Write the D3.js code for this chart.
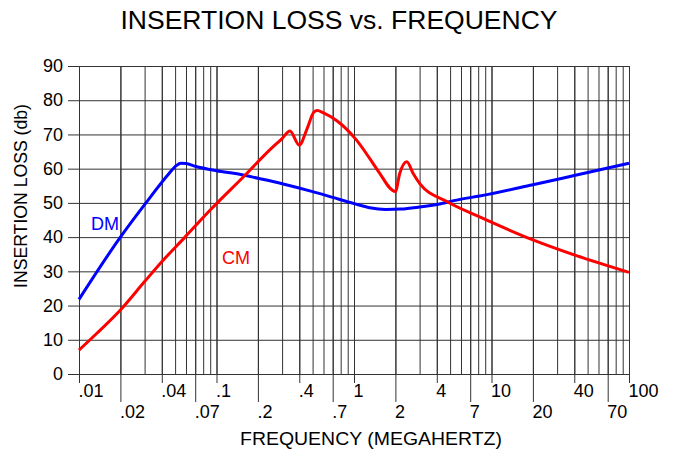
<!DOCTYPE html>
<html>
<head>
<meta charset="utf-8">
<script src="https://cdn.jsdelivr.net/npm/d3@7"></script>
<style>
  body { margin: 0; background: #fff; }
  svg { display: block; font-family: "Liberation Sans", Arial, sans-serif; }
  .grid line { stroke: #333; stroke-width: 1; }
  .grid path { display: none; }
</style>
</head>
<body>
<svg id="chart" width="678" height="459"></svg>
<script>
// frequency in MHz, insertion loss in dB
const dmFreq = [0.01, 0.02, 0.03, 0.045, 0.05, 0.055, 0.06, 0.07, 0.1, 0.15, 0.2, 0.3, 0.5, 0.7, 1.0, 1.3, 1.7, 2.2, 3.0, 4.2, 6.0, 8.2, 20, 40, 100];
const dmLoss = [21.8, 40.0, 49.5, 58.5, 60.6, 61.6, 61.5, 60.7, 59.4, 58.3, 57.2, 55.6, 53.3, 51.6, 49.8, 48.6, 48.1, 48.2, 48.8, 49.7, 51.1, 52.0, 55.3, 58.0, 61.6];

const cmFreq = [0.01, 0.0135, 0.02, 0.03, 0.04, 0.059, 0.09, 0.166, 0.244, 0.3, 0.342, 0.40, 0.457, 0.51, 0.54, 0.6, 0.75, 1.04, 1.3, 1.5, 2.0, 2.15, 2.42, 2.7, 3.0, 4.73, 8.2, 20, 40, 100];
const cmLoss = [7.0, 11.9, 18.7, 27.0, 32.8, 40.0, 47.9, 58.6, 65.5, 68.8, 71.0, 66.9, 71.8, 76.5, 77.0, 76.3, 74.0, 68.4, 63.0, 59.3, 53.3, 58.6, 62.0, 58.5, 55.7, 50.4, 45.9, 39.2, 34.8, 29.7];

const yTicks = [0, 10, 20, 30, 40, 50, 60, 70, 80, 90];
const topTicks = [0.01, 0.04, 0.1, 0.4, 1, 4, 10, 40, 100];
const topLabels = [".01", ".04", ".1", ".4", "1", "4", "10", "40", "100"];
const bottomTicks = [0.02, 0.07, 0.2, 0.7, 2, 7, 20, 70];
const bottomLabels = [".02", ".07", ".2", ".7", "2", "7", "20", "70"];

const svg = d3.select('#chart');
const plotL = 79, plotR = 629, plotT = 66, plotB = 374;

const x = d3.scaleLog().domain([0.01, 100]).range([plotL, plotR]);
const y = d3.scaleLinear().domain([0, 90]).range([plotB, plotT]);

// every 1..9 line per decade
const allTicks = [];
[0.01, 0.1, 1, 10].forEach(d => { for (let k = 1; k <= 9; k++) allTicks.push(+(d * k).toPrecision(3)); });
allTicks.push(100);

// vertical grid
svg.append('g').attr('class', 'grid')
  .attr('transform', `translate(0,${plotT})`)
  .call(d3.axisBottom(x).tickValues(allTicks).tickSize(plotB - plotT).tickFormat(''));

const topAxis = svg.append('g').attr('class', 'grid')
  .attr('transform', `translate(0,${plotT})`)
  .call(d3.axisBottom(x).tickValues(topTicks).tickSize(plotB - plotT + 9)
    .tickFormat((d, i) => topLabels[i]));
topAxis.selectAll('text')
  .attr('text-anchor', 'start').attr('dx', -1).attr('y', plotB - plotT + 23).attr('dy', 0)
  .attr('font-size', 18).attr('fill', '#000');

const botAxis = svg.append('g').attr('class', 'grid')
  .attr('transform', `translate(0,${plotT})`)
  .call(d3.axisBottom(x).tickValues(bottomTicks).tickSize(plotB - plotT + 28)
    .tickFormat((d, i) => bottomLabels[i]));
botAxis.selectAll('text')
  .attr('text-anchor', 'start').attr('dx', -1).attr('y', plotB - plotT + 44).attr('dy', 0)
  .attr('font-size', 18).attr('fill', '#000');

// horizontal grid with y labels
const yAxis = svg.append('g').attr('class', 'grid')
  .attr('transform', `translate(${plotR},0)`)
  .call(d3.axisLeft(y).tickValues(yTicks).tickSize(plotR - 68).tickPadding(5));
yAxis.selectAll('text').attr('font-size', 18).attr('fill', '#000');
yAxis.selectAll('.tick').filter(d => d === 90).select('line').attr('stroke', '#999');

// curves
const line = d3.line().x(d => x(d[0])).y(d => y(d[1])).curve(d3.curveMonotoneX);
svg.append('path').datum(dmFreq.map((f, i) => [f, dmLoss[i]]))
  .attr('d', line).attr('fill', 'none').attr('stroke', '#0000ff').attr('stroke-width', 3);
svg.append('path').datum(cmFreq.map((f, i) => [f, cmLoss[i]]))
  .attr('d', line).attr('fill', 'none').attr('stroke', '#ff0000').attr('stroke-width', 3);

// series labels
svg.append('text').attr('x', 91).attr('y', 230).attr('font-size', 18).attr('fill', '#0000ff').text('DM');
svg.append('text').attr('x', 222).attr('y', 264).attr('font-size', 18).attr('fill', '#ff0000').text('CM');

// titles
svg.append('text').attr('x', 339).attr('y', 29).attr('text-anchor', 'middle')
  .attr('font-size', 26).attr('fill', '#000')
  .attr('textLength', 437).attr('lengthAdjust', 'spacingAndGlyphs')
  .text('INSERTION LOSS vs. FREQUENCY');
svg.append('text').attr('x', 371).attr('y', 445).attr('text-anchor', 'middle')
  .attr('font-size', 18).attr('fill', '#000')
  .attr('textLength', 262).attr('lengthAdjust', 'spacingAndGlyphs')
  .text('FREQUENCY (MEGAHERTZ)');
svg.append('text').attr('transform', 'translate(27,196) rotate(-90)').attr('text-anchor', 'middle')
  .attr('font-size', 18).attr('fill', '#000')
  .attr('textLength', 184).attr('lengthAdjust', 'spacingAndGlyphs')
  .text('INSERTION LOSS (db)');
</script>
</body>
</html>
